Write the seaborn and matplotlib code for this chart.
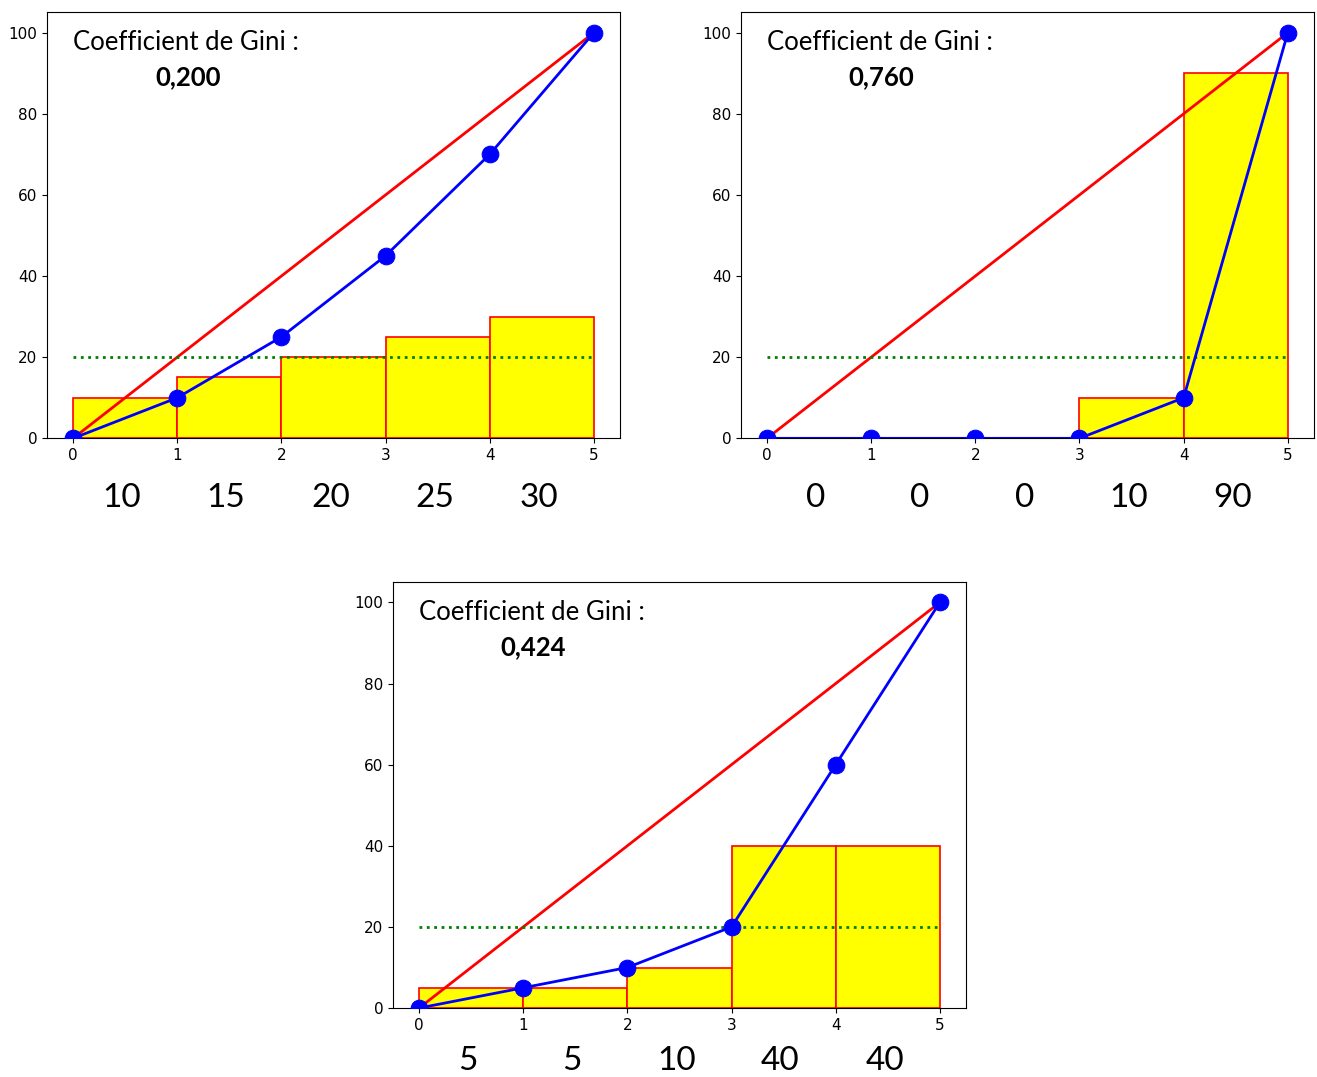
import numpy as np
import pandas as pd
import seaborn as sns
import matplotlib.pyplot as plt
import matplotlib.transforms as mtransforms

# parts (en %) de chaque quintile, pour les trois exemples
parts_a = [10, 15, 20, 25, 30]
parts_b = [0, 0, 0, 10, 90]
parts_c = [5, 5, 10, 40, 40]
gini_labels = ["0,200", "0,760", "0,424"]
egalite = 20  # part d'un quintile si tout est egal

toutes_parts = [parts_a, parts_b, parts_c]

fig = plt.figure(figsize=(13.17, 10.77), dpi=100)
positions = [
    [0.0357, 0.593, 0.435, 0.3955],
    [0.5626, 0.593, 0.435, 0.3955],
    [0.2984, 0.064, 0.435, 0.3955],
]
# hauteur des chiffres sous l'axe (en fraction de l'axe)
y_chiffres = [-0.14, -0.14, -0.125]

texte_font = "Lato"

for parts, gini, pos, yc in zip(toutes_parts, gini_labels, positions, y_chiffres):
    ax = fig.add_axes(pos)
    n = len(parts)
    idx = np.arange(n)

    # histogramme des parts
    ax.bar(idx, parts, width=1, align="edge", color="yellow",
           edgecolor="red", linewidth=1.2, zorder=1)

    # droite d'egalite parfaite
    ax.plot([0, n], [0, 100], color="red", linewidth=2, zorder=2)

    # niveau moyen
    ax.plot([0, n], [egalite, egalite], color="green", linestyle=":",
            linewidth=2, zorder=2)

    # courbe de Lorenz
    lorenz = pd.DataFrame({"x": np.arange(n + 1),
                           "y": np.concatenate([[0], np.cumsum(parts)])})
    sns.lineplot(data=lorenz, x="x", y="y", ax=ax, color="blue",
                 linewidth=2, marker="o", markersize=12,
                 markeredgecolor="blue", zorder=3)

    ax.set_xlim(-0.25, n + 0.25)
    ax.set_ylim(0, 105)
    ax.set_xlabel("")
    ax.set_ylabel("")
    ax.set_xticks(range(n + 1))
    ax.set_yticks([0, 20, 40, 60, 80, 100])
    ax.tick_params(labelsize=11)

    ax.text(0, 97.5, "Coefficient de Gini :", fontsize=18.5,
            family=texte_font, ha="left", va="center")
    ax.text(1.1, 89, gini, fontsize=18.5, fontweight="bold",
            family=texte_font, ha="center", va="center")

    trans = mtransforms.blended_transform_factory(ax.transData, ax.transAxes)
    for i, p in enumerate(parts):
        ax.text(i + 0.47, yc, str(p), transform=trans, fontsize=24,
                family=texte_font, ha="center", va="center")

fig.savefig("out.png", dpi=100)
